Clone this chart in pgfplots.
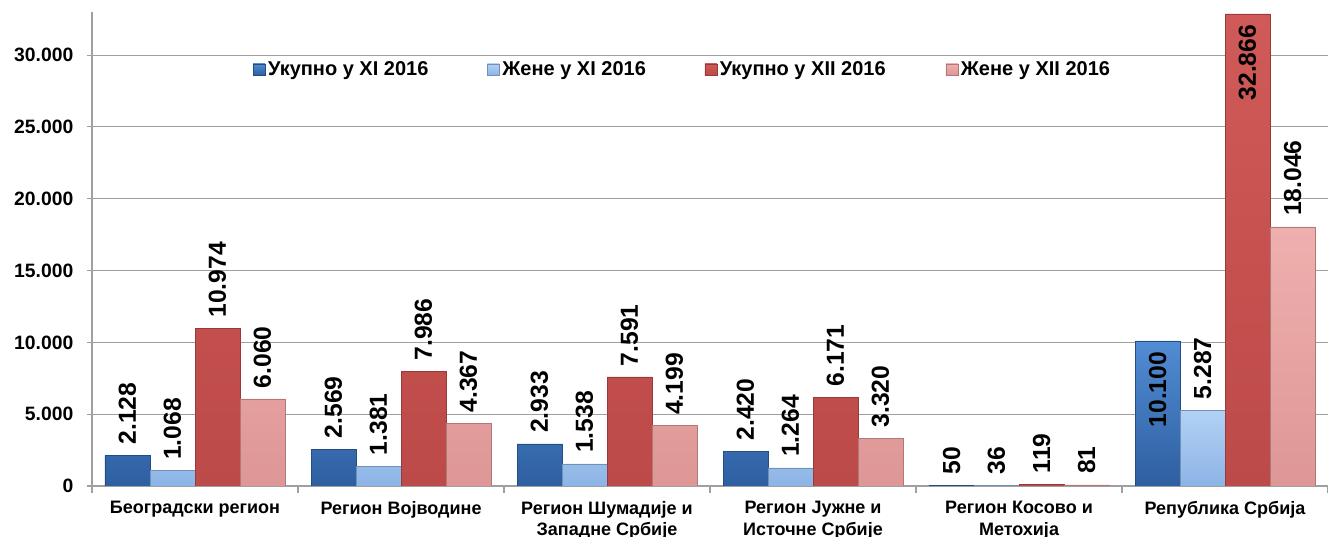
\documentclass[border=0pt]{standalone}
\usepackage{pgfplots}
\pgfplotsset{compat=1.18}
\usepackage{fontspec}
\setmainfont{Liberation Sans}
\definecolor{bAt}{RGB}{82,140,212}
\definecolor{bAb}{RGB}{45,95,160}
\definecolor{bBt}{RGB}{178,210,245}
\definecolor{bBb}{RGB}{140,180,230}
\definecolor{bCt}{RGB}{208,90,87}
\definecolor{bCb}{RGB}{188,74,72}
\definecolor{bDt}{RGB}{238,176,174}
\definecolor{bDb}{RGB}{222,150,150}
\definecolor{gridc}{RGB}{160,160,160}
\begin{document}
\begin{tikzpicture}
\begin{axis}[
  scale only axis, width=927pt, height=355.5pt,
  xmin=-0.5, xmax=5.5, ymin=0, ymax=33000,
  ybar=0pt, bar width=33.75pt,
  ytick={0,5000,10000,15000,20000,25000,30000},
  scaled y ticks=false,
  ymajorgrids, grid style={draw=gridc, line width=0.8pt},
  axis x line*=bottom, axis y line*=left,
  axis line style={draw=gridc, line width=0.8pt},
  tick align=outside,
  major tick length=4pt,
  xtick={0,1,2,3,4,5},
  xticklabels={Београдски регион, Регион Војводине, Регион Шумадије и\\Западне Србије, Регион Јужне и\\Источне Србије, Регион Косово и\\Метохија, Република Србија},
  major x tick style={draw=none},
  minor xtick={-0.5,0.5,1.5,2.5,3.5,4.5,5.5},
  minor x tick style={draw=gridc, line width=0.8pt},
  minor tick length=5pt,
  ytick style={draw=gridc, line width=0.8pt},
  xticklabel style={font=\bfseries\fontsize{13.5}{16}\selectfont, align=center, yshift=-4pt},
  yticklabel style={font=\bfseries\fontsize{14.5}{16}\selectfont, xshift=-6.5pt},
  /pgf/number format/.cd, 1000 sep={.}, assume math mode=true,
  /pgfplots/.cd,
  every axis plot/.append style={line width=0.4pt},
  lbl/.style={nodes near coords, point meta=explicit symbolic,
    nodes near coords style={font=\bfseries\fontsize{18.5}{20}\selectfont, rotate=90, anchor=west, inner xsep=8pt, inner ysep=0pt, text=black}},
  lblin/.style={nodes near coords, point meta=explicit symbolic,
    nodes near coords style={font=\bfseries\fontsize{18.5}{20}\selectfont, rotate=90, anchor=east, inner xsep=8pt, inner ysep=0pt, text=black}},
  legend style={at={(0.478,0.878)}, anchor=center, draw=none, fill=none,
    font=\bfseries\fontsize{15}{17}\selectfont,
    /tikz/every even column/.append style={column sep=0pt}},
  legend columns=4,
  legend image code/.code={\path[#1] (0pt,-4pt) rectangle (9pt,4.5pt);},
]
\addplot[lbl, top color=bAt, bottom color=bAb, draw=bAb!80!black]
  coordinates {(0,2128)[2.128] (1,2569)[2.569] (2,2933)[2.933] (3,2420)[2.420] (4,50)[50] (5,10100)[]};
\addplot[lbl, top color=bBt, bottom color=bBb, draw=bBb!80!black]
  coordinates {(0,1068)[1.068] (1,1381)[1.381] (2,1538)[1.538] (3,1264)[1.264] (4,36)[36] (5,5287)[5.287]};
\addplot[lbl, top color=bCt, bottom color=bCb, draw=bCb!80!black]
  coordinates {(0,10974)[10.974] (1,7986)[7.986] (2,7591)[7.591] (3,6171)[6.171] (4,119)[119] (5,32866)[]};
\addplot[lbl, top color=bDt, bottom color=bDb, draw=bDb!80!black]
  coordinates {(0,6060)[6.060] (1,4367)[4.367] (2,4199)[4.199] (3,3320)[3.320] (4,81)[81] (5,18046)[18.046]};
\legend{Укупно у XI 2016\rule{42pt}{0pt}, Жене у XI 2016\rule{42pt}{0pt}, Укупно у XII 2016\rule{43pt}{0pt}, Жене у XII 2016}
\addplot[lblin, draw=none, fill=none, forget plot, bar shift=-50.625pt]
  coordinates {(5,10100)[10.100]};
\addplot[lblin, draw=none, fill=none, forget plot, bar shift=16.875pt]
  coordinates {(5,32866)[32.866]};
\coordinate (bl) at (rel axis cs:0,0);
\coordinate (tr) at (rel axis cs:1,1);
\end{axis}
\pgfresetboundingbox
\path[use as bounding box] ([xshift=-69pt,yshift=-38.25pt]bl) rectangle ([yshift=9pt]tr);
\end{tikzpicture}
\end{document}
